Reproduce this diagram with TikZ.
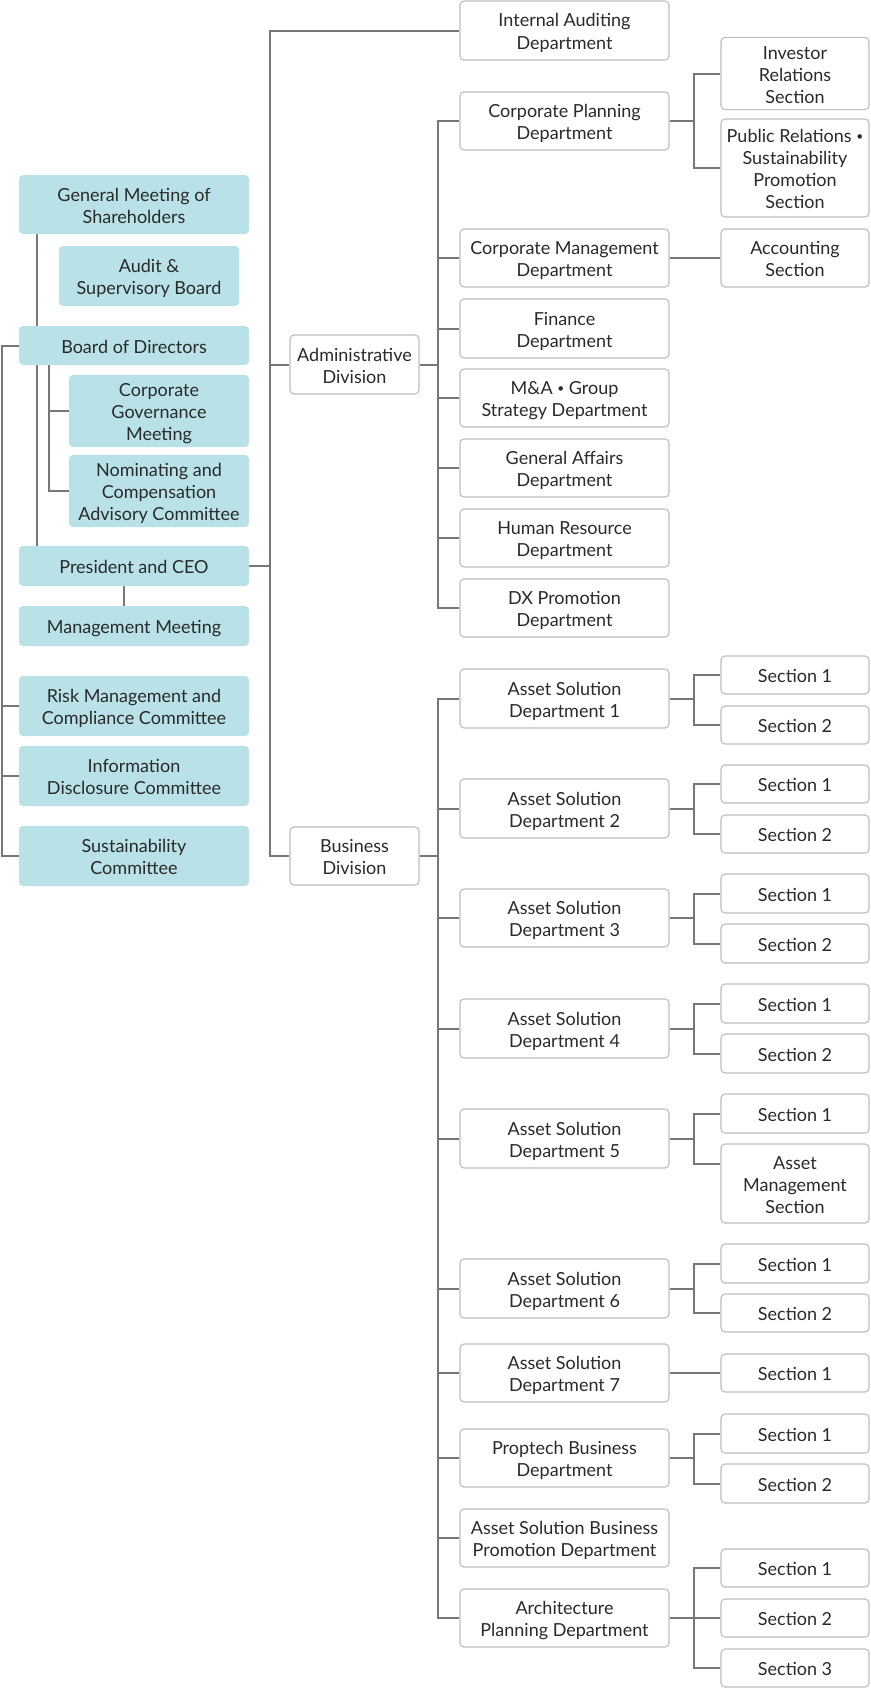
\documentclass[tikz,border=0pt]{standalone}
\usepackage{fontspec}
\setmainfont{Lato}
\usetikzlibrary{backgrounds,calc}
\definecolor{tealf}{HTML}{B8E2E8}
\definecolor{lnc}{HTML}{777777}
\definecolor{bdc}{HTML}{BDBDBD}
\definecolor{txc}{HTML}{2A2A2A}
\newcommand\fsz{\fontsize{18}{22}\selectfont}
\newcommand\dotsep{{\fontsize{12}{12}\selectfont\raisebox{2pt}{•}}}
\newcommand\mkbox[7]{\node[#2, minimum width={(#5-#3)*1pt}, minimum height={(#6-#4)*1pt}] (#1) at ({(#3+#5)/2},{(#4+#6)/2}) {\begin{tabular}{@{}c@{}}\rule{0pt}{21.6pt}#7\end{tabular}};}
\begin{document}
\begin{tikzpicture}[x=1pt,y=-1pt,
  tealbox/.style={fill=tealf, rounded corners=4pt, inner sep=0pt, text=txc, font=\fsz},
  whitebox/.style={fill=white, draw=bdc, line width=1.1pt, rounded corners=4pt, inner sep=0pt, text=txc, font=\fsz},
  conn/.style={draw=lnc, line width=2pt}]
\useasboundingbox (0,0) rectangle (870,1689);
% left column
\mkbox{gm}{tealbox}{19}{175}{249}{234}{General Meeting of\\Shareholders}
\mkbox{aud}{tealbox}{59}{246}{239}{306}{Audit \&\\Supervisory Board}
\mkbox{bod}{tealbox}{19}{326}{249}{365}{Board of Directors}
\mkbox{cg}{tealbox}{69}{376}{249}{446}{Corporate\\Governance\\Meeting}
\mkbox{nom}{tealbox}{69}{456}{249}{526}{Nominating and\\Compensation\\Advisory Committee}
\mkbox{ceo}{tealbox}{19}{546}{249}{586}{President and CEO}
\mkbox{mm}{tealbox}{19}{606}{249}{646}{Management Meeting}
\mkbox{risk}{tealbox}{19}{676}{249}{736}{Risk Management and\\Compliance Committee}
\mkbox{info}{tealbox}{19}{746}{249}{806}{Information\\Disclosure Committee}
\mkbox{sus}{tealbox}{19}{826}{249}{886}{Sustainability\\Committee}
% divisions
\mkbox{adm}{whitebox}{290}{335}{419}{394}{Administrative\\Division}
\mkbox{biz}{whitebox}{290}{827}{419}{885}{Business\\Division}
% admin departments
\mkbox{iad}{whitebox}{460}{1}{669}{60}{Internal Auditing\\Department}
\mkbox{cpd}{whitebox}{460}{92}{669}{150}{Corporate Planning\\Department}
\mkbox{cmd}{whitebox}{460}{229}{669}{287}{Corporate Management\\Department}
\mkbox{fin}{whitebox}{460}{299}{669}{358}{Finance\\Department}
\mkbox{ma}{whitebox}{460}{369}{669}{427}{M\&A \dotsep{} Group\\Strategy Department}
\mkbox{ga}{whitebox}{460}{439}{669}{497}{General Affairs\\Department}
\mkbox{hr}{whitebox}{460}{509}{669}{567}{Human Resource\\Department}
\mkbox{dx}{whitebox}{460}{579}{669}{637}{DX Promotion\\Department}
\mkbox{ir}{whitebox}{721}{39}{869}{108}{Investor\\Relations\\Section}
\mkbox{pr}{whitebox}{721}{119}{869}{217}{Public Relations \dotsep\\Sustainability\\Promotion\\Section}
\mkbox{acc}{whitebox}{721}{229}{869}{287}{Accounting\\Section}
% business departments
\mkbox{as1}{whitebox}{460}{669}{669}{728}{Asset Solution\\Department 1}
\mkbox{as2}{whitebox}{460}{779}{669}{838}{Asset Solution\\Department 2}
\mkbox{as3}{whitebox}{460}{889}{669}{947}{Asset Solution\\Department 3}
\mkbox{as4}{whitebox}{460}{999}{669}{1058}{Asset Solution\\Department 4}
\mkbox{as5}{whitebox}{460}{1109}{669}{1168}{Asset Solution\\Department 5}
\mkbox{as6}{whitebox}{460}{1259}{669}{1318}{Asset Solution\\Department 6}
\mkbox{as7}{whitebox}{460}{1344}{669}{1402}{Asset Solution\\Department 7}
\mkbox{prop}{whitebox}{460}{1429}{669}{1487}{Proptech Business\\Department}
\mkbox{asbp}{whitebox}{460}{1509}{669}{1567}{Asset Solution Business\\Promotion Department}
\mkbox{arch}{whitebox}{460}{1589}{669}{1647}{Architecture\\Planning Department}
% sections
\mkbox{a1s1}{whitebox}{721}{656}{869}{694}{Section 1}
\mkbox{a1s2}{whitebox}{721}{706}{869}{744}{Section 2}
\mkbox{a2s1}{whitebox}{721}{765}{869}{803}{Section 1}
\mkbox{a2s2}{whitebox}{721}{815}{869}{853}{Section 2}
\mkbox{a3s1}{whitebox}{721}{874}{869}{913}{Section 1}
\mkbox{a3s2}{whitebox}{721}{924}{869}{963}{Section 2}
\mkbox{a4s1}{whitebox}{721}{984}{869}{1023}{Section 1}
\mkbox{a4s2}{whitebox}{721}{1034}{869}{1073}{Section 2}
\mkbox{a5s1}{whitebox}{721}{1094}{869}{1133}{Section 1}
\mkbox{a5am}{whitebox}{721}{1144}{869}{1223}{Asset\\Management\\Section}
\mkbox{a6s1}{whitebox}{721}{1244}{869}{1283}{Section 1}
\mkbox{a6s2}{whitebox}{721}{1294}{869}{1332}{Section 2}
\mkbox{a7s1}{whitebox}{721}{1354}{869}{1392}{Section 1}
\mkbox{pts1}{whitebox}{721}{1414}{869}{1453}{Section 1}
\mkbox{pts2}{whitebox}{721}{1464}{869}{1503}{Section 2}
\mkbox{ars1}{whitebox}{721}{1549}{869}{1587}{Section 1}
\mkbox{ars2}{whitebox}{721}{1599}{869}{1637}{Section 2}
\mkbox{ars3}{whitebox}{721}{1649}{869}{1687}{Section 3}
% guide coordinates
\coordinate (xA) at (37,0);
\coordinate (xB) at (49,0);
\coordinate (xL) at (1.5,0);
\coordinate (xM) at (124,0);
\coordinate (xV) at (270,0);
\coordinate (xD) at (438,0);
\coordinate (xS) at (694,0);
\coordinate (amc) at ([yshift=20pt]a5am.west);
\begin{scope}[on background layer]
\draw[conn] (gm.south -| xA) -- (ceo.north -| xA);
\draw[conn] (bod.south -| xB) |- (nom.west);
\draw[conn] (xB |- cg.west) -- (cg.west);
\draw[conn] (bod.west) -| (xL |- sus.west) -- (sus.west);
\draw[conn] (xL |- risk.west) -- (risk.west);
\draw[conn] (xL |- info.west) -- (info.west);
\draw[conn] (ceo.south -| xM) -- (mm.north -| xM);
\draw[conn] (ceo.east) -- (xV |- ceo.east);
\draw[conn] (iad.west) -| (xV |- biz.west) -- (biz.west);
\draw[conn] (xV |- adm.west) -- (adm.west);
\draw[conn] (adm.east) -- (xD |- adm.east);
\draw[conn] (cpd.west) -| (xD |- dx.west) -- (dx.west);
\foreach \n in {cmd,fin,ma,ga,hr} {\draw[conn] (xD |- \n.west) -- (\n.west);}
\draw[conn] (cpd.east) -- (xS |- cpd.east);
\draw[conn] (ir.west) -| (xS |- pr.west) -- (pr.west);
\draw[conn] (cmd.east) -- (acc.west);
\draw[conn] (biz.east) -- (xD |- biz.east);
\draw[conn] (as1.west) -| (xD |- arch.west) -- (arch.west);
\foreach \n in {as2,as3,as4,as5,as6,as7,prop,asbp} {\draw[conn] (xD |- \n.west) -- (\n.west);}
\foreach \d/\s/\t in {as1/a1s1/a1s2,as2/a2s1/a2s2,as3/a3s1/a3s2,as4/a4s1/a4s2,as6/a6s1/a6s2,prop/pts1/pts2} {
  \draw[conn] (\d.east) -- (xS |- \d.east);
  \draw[conn] (\s.west) -| (xS |- \t.west) -- (\t.west);
}
\draw[conn] (as5.east) -- (xS |- as5.east);
\draw[conn] (a5s1.west) -| (xS |- amc) -- (amc);
\draw[conn] (as7.east) -- (a7s1.west);
\draw[conn] (arch.east) -- (ars2.west);
\draw[conn] (ars1.west) -| (xS |- ars3.west) -- (ars3.west);
\end{scope}
\end{tikzpicture}
\end{document}
